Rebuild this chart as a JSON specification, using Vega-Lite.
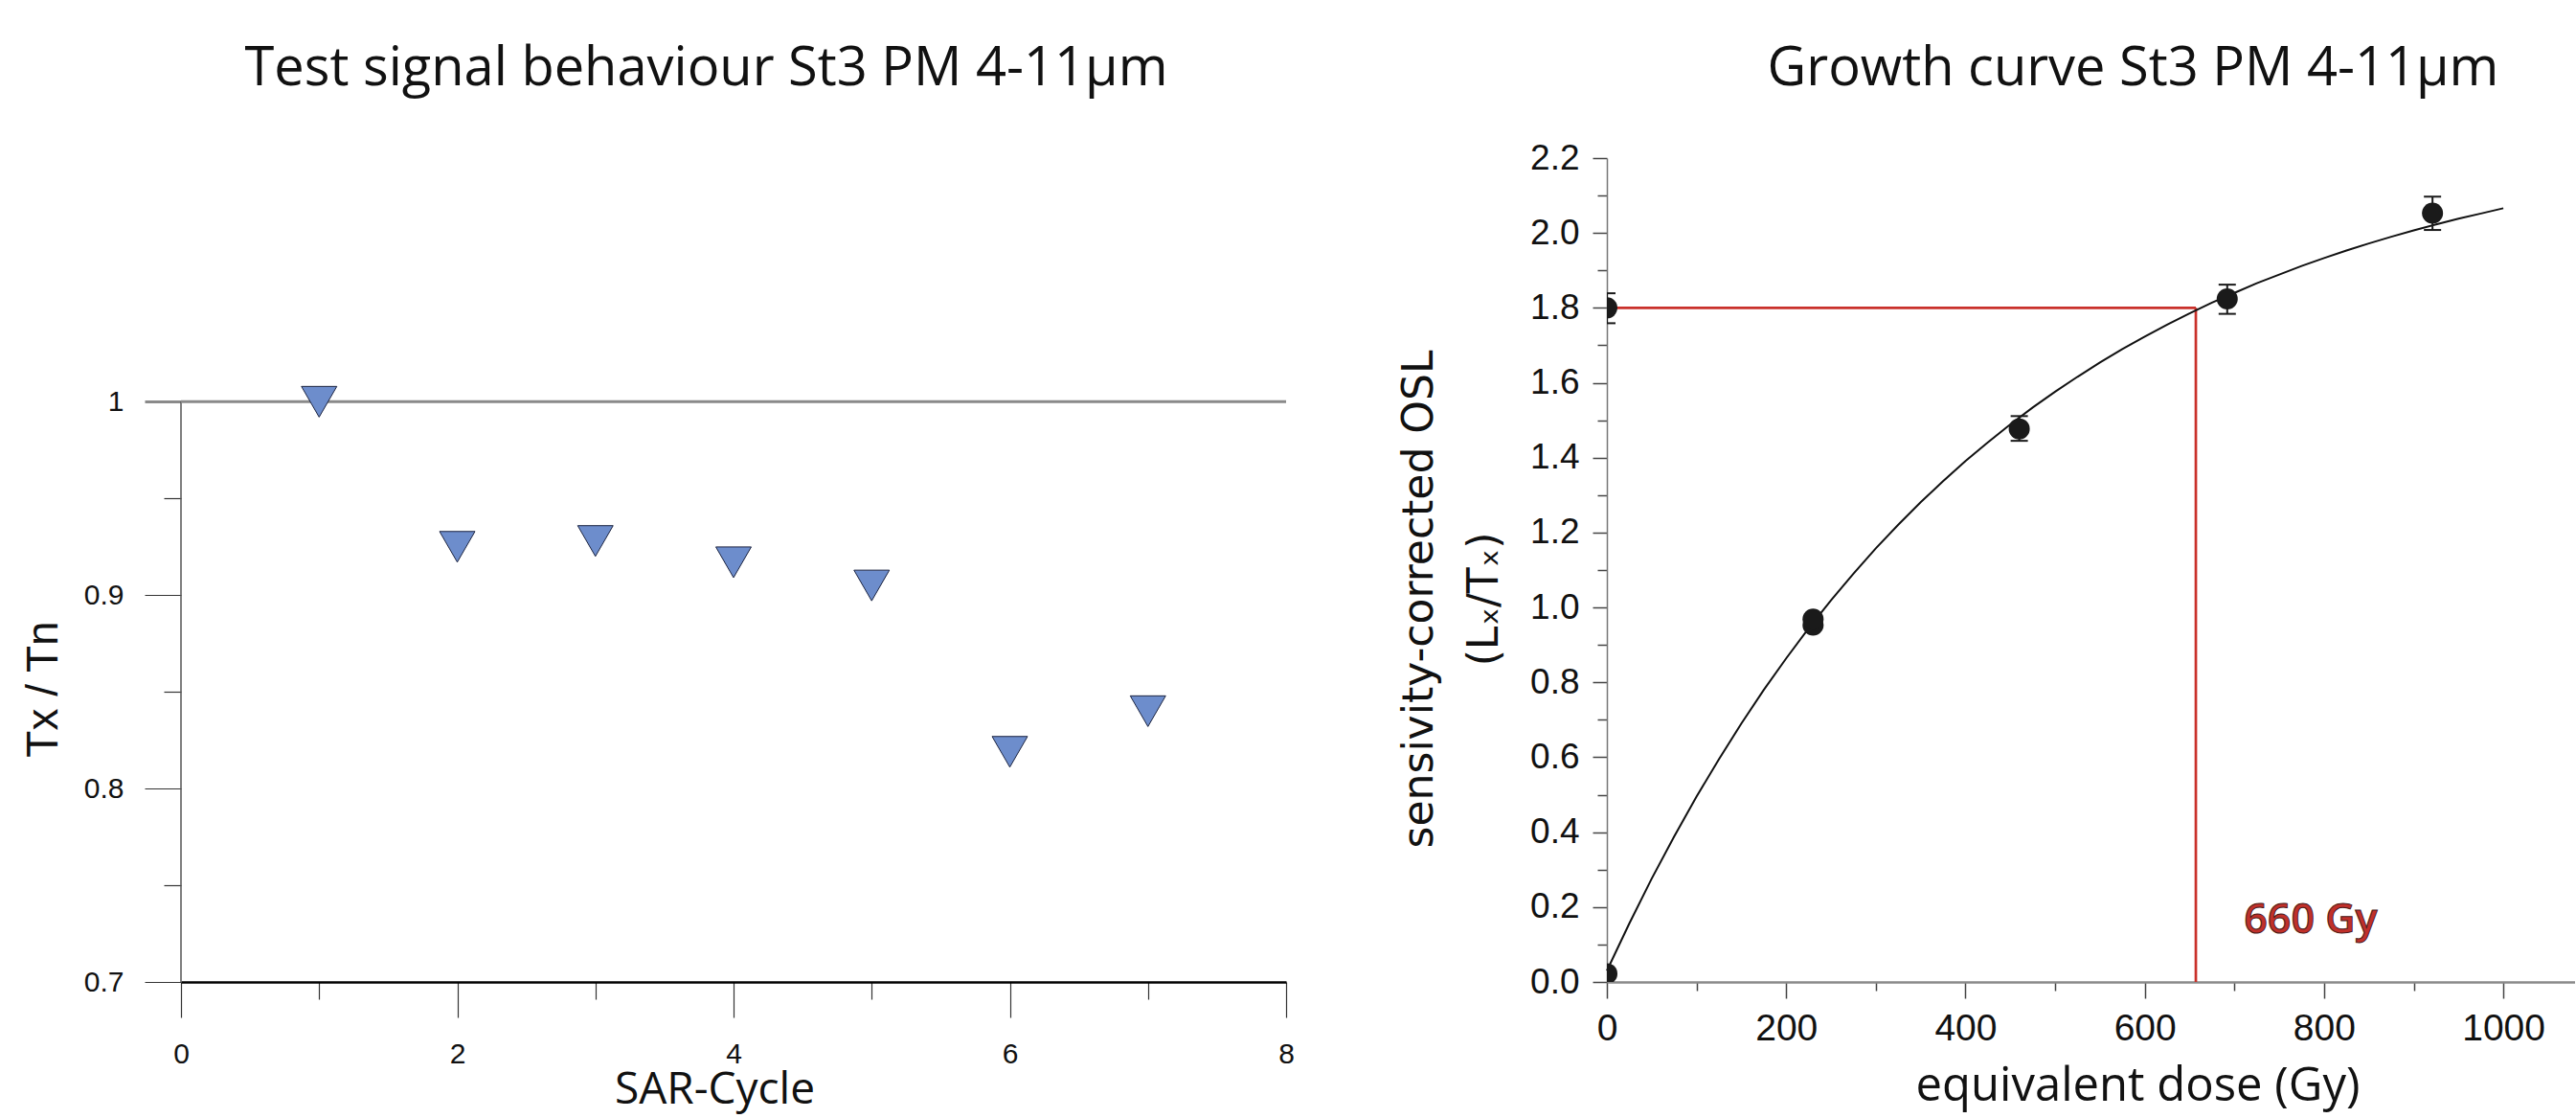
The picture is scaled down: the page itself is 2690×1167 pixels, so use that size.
{
  "$schema": "https://vega.github.io/schema/vega-lite/v6.json",
  "background": "white",
  "padding": {"left": 22, "top": 43, "right": 0, "bottom": 8},
  "bounds": "flush",
  "spacing": 335,
  "config": {"view": {"stroke": null}, "axis": {"grid": false}},
  "datasets": {
    "tri": [
      {"cycle": 1, "ratio": 1.0},
      {"cycle": 2, "ratio": 0.925},
      {"cycle": 3, "ratio": 0.928},
      {"cycle": 4, "ratio": 0.917},
      {"cycle": 5, "ratio": 0.905},
      {"cycle": 6, "ratio": 0.819},
      {"cycle": 7, "ratio": 0.840}
    ],
    "leftline": [{"x": 0, "y0": 0.7, "y1": 1.0}],
    "topline": [{"x0": 0, "x1": 8, "y": 1.0}],
    "curve": [
      {"d": 0, "v": 0.03}, {"d": 25, "v": 0.156}, {"d": 50, "v": 0.276}, {"d": 75, "v": 0.388},
      {"d": 100, "v": 0.495}, {"d": 125, "v": 0.595}, {"d": 150, "v": 0.690}, {"d": 175, "v": 0.780},
      {"d": 200, "v": 0.864}, {"d": 225, "v": 0.944}, {"d": 250, "v": 1.019}, {"d": 275, "v": 1.090},
      {"d": 300, "v": 1.158}, {"d": 325, "v": 1.221}, {"d": 350, "v": 1.281}, {"d": 375, "v": 1.337},
      {"d": 400, "v": 1.391}, {"d": 425, "v": 1.441}, {"d": 450, "v": 1.489}, {"d": 475, "v": 1.534},
      {"d": 500, "v": 1.576}, {"d": 525, "v": 1.616}, {"d": 550, "v": 1.654}, {"d": 575, "v": 1.690},
      {"d": 600, "v": 1.723}, {"d": 625, "v": 1.755}, {"d": 650, "v": 1.785}, {"d": 675, "v": 1.814},
      {"d": 700, "v": 1.840}, {"d": 725, "v": 1.866}, {"d": 750, "v": 1.889}, {"d": 775, "v": 1.912},
      {"d": 800, "v": 1.933}, {"d": 825, "v": 1.953}, {"d": 850, "v": 1.972}, {"d": 875, "v": 1.990},
      {"d": 900, "v": 2.007}, {"d": 925, "v": 2.023}, {"d": 950, "v": 2.038}, {"d": 975, "v": 2.052},
      {"d": 1000, "v": 2.066}
    ],
    "pts": [
      {"dose": 0, "lxtx": 1.80, "lo": 1.759, "hi": 1.839},
      {"dose": 0, "lxtx": 0.022},
      {"dose": 230, "lxtx": 0.953},
      {"dose": 230, "lxtx": 0.969},
      {"dose": 460, "lxtx": 1.477, "lo": 1.445, "hi": 1.511},
      {"dose": 692, "lxtx": 1.824, "lo": 1.784, "hi": 1.862},
      {"dose": 921, "lxtx": 2.053, "lo": 2.008, "hi": 2.097}
    ],
    "red": [
      {"x0": 0, "x1": 657, "y0": 1.8, "y1": 1.8},
      {"x0": 657, "x1": 657, "y0": 0, "y1": 1.8}
    ],
    "lab": [{"dose": 785, "lxtx": 0.13, "text": "660 Gy"}]
  },
  "hconcat": [
    {
      "width": 1154,
      "height": 860,
      "title": {"text": "Test signal behaviour St3 PM 4-11µm", "font": "Open Sans", "fontSize": 56, "fontWeight": "normal", "color": "#111111", "anchor": "middle", "frame": "group", "baseline": "alphabetic", "offset": 19.8, "dx": -28.5},
      "resolve": {"axis": {"x": "independent", "y": "independent"}},
      "layer": [
        {
          "data": {"name": "leftline"},
          "mark": {"type": "rule", "color": "#555555", "strokeWidth": 1.5},
          "encoding": {
            "x": {"field": "x", "type": "quantitative", "scale": {"domain": [0, 8], "nice": false, "zero": false},
                  "axis": {"orient": "bottom", "values": [1, 3, 5, 7], "tickSize": 18, "labels": false, "domain": false, "title": null, "tickColor": "#333333", "tickWidth": 1.2}},
            "y": {"field": "y0", "type": "quantitative", "scale": {"domain": [0.7, 1.126], "nice": false, "zero": false},
                  "axis": {"orient": "left", "values": [0.75, 0.85, 0.95], "tickSize": 18, "labels": false, "domain": false, "title": null, "tickColor": "#333333", "tickWidth": 1.2}},
            "y2": {"field": "y1"}
          }
        },
        {
          "data": {"name": "topline"},
          "mark": {"type": "rule", "color": "#8a8a8a", "strokeWidth": 3},
          "encoding": {
            "x": {"field": "x0", "type": "quantitative", "scale": {"domain": [0, 8], "nice": false, "zero": false}, "axis": null},
            "x2": {"field": "x1"},
            "y": {"field": "y", "type": "quantitative", "scale": {"domain": [0.7, 1.126], "nice": false, "zero": false}, "axis": null}
          }
        },
        {
          "data": {"name": "tri"},
          "mark": {"type": "point", "shape": "triangle-down", "filled": true, "size": 1369, "fill": "#6d8dcc", "stroke": "#1c2440", "strokeWidth": 1, "opacity": 1},
          "encoding": {
            "x": {"field": "cycle", "type": "quantitative", "scale": {"domain": [0, 8], "nice": false, "zero": false},
                  "axis": {"orient": "bottom", "values": [0, 2, 4, 6, 8], "tickSize": 37, "tickColor": "#333333", "tickWidth": 1.2, "domainColor": "#000000", "domainWidth": 2.5,
                           "labelFont": "Liberation Sans", "labelFontSize": 30, "labelColor": "#111111", "labelPadding": 23, "labelFlush": false, "labelOverlap": false,
                           "title": "SAR-Cycle", "titleFont": "Open Sans", "titleFontSize": 46, "titleFontWeight": "normal", "titleColor": "#111111",
                           "titleX": 557, "titleY": 126, "titleBaseline": "alphabetic", "titleAlign": "center"}},
            "y": {"field": "ratio", "type": "quantitative", "scale": {"domain": [0.7, 1.126], "nice": false, "zero": false},
                  "axis": {"orient": "left", "values": [0.7, 0.8, 0.9, 1], "format": "~g", "tickSize": 38,
                           "tickColor": {"condition": {"test": "datum.value === 1", "value": "#8a8a8a"}, "value": "#333333"},
                           "tickWidth": {"condition": {"test": "datum.value === 1", "value": 3}, "value": 1.2},
                           "domain": false, "labelFont": "Liberation Sans", "labelFontSize": 30, "labelColor": "#111111", "labelPadding": 22, "labelFlush": false, "labelOverlap": false,
                           "title": "Tx / Tn", "titleFont": "Liberation Sans", "titleFontSize": 46, "titleFontWeight": "normal", "titleColor": "#111111",
                           "titleX": -130, "titleY": 554, "titleBaseline": "alphabetic", "titleAlign": "center"}}
          }
        }
      ]
    },
    {
      "width": 1011,
      "height": 860,
      "title": {"text": "Growth curve St3 PM 4-11µm", "font": "Open Sans", "fontSize": 56, "fontWeight": "normal", "color": "#111111", "anchor": "middle", "frame": "group", "baseline": "alphabetic", "offset": 1.4, "dx": 44},
      "resolve": {"axis": {"x": "independent", "y": "independent"}},
      "layer": [
        {
          "data": {"name": "red"},
          "mark": {"type": "rule", "color": "#c9302a", "strokeWidth": 2.7},
          "encoding": {
            "x": {"field": "x0", "type": "quantitative", "scale": {"domain": [0, 1080], "nice": false, "zero": false},
                  "axis": {"orient": "bottom", "values": [100, 300, 500, 700, 900], "tickSize": 9, "labels": false, "domain": false, "title": null, "tickColor": "#444444", "tickWidth": 1.5}},
            "x2": {"field": "x1"},
            "y": {"field": "y0", "type": "quantitative", "scale": {"domain": [0, 2.2], "nice": false, "zero": false},
                  "axis": {"orient": "left", "values": [0.1, 0.3, 0.5, 0.7, 0.9, 1.1, 1.3, 1.5, 1.7, 1.9, 2.1], "tickSize": 10, "labels": false, "domain": false, "title": null, "tickColor": "#444444", "tickWidth": 1.5}},
            "y2": {"field": "y1"}
          }
        },
        {
          "data": {"name": "curve"},
          "mark": {"type": "line", "color": "#111111", "strokeWidth": 2},
          "encoding": {
            "x": {"field": "d", "type": "quantitative", "scale": {"domain": [0, 1080], "nice": false, "zero": false},
                  "axis": {"orient": "bottom", "values": [0, 200, 400, 600, 800, 1000], "format": "d", "tickSize": 17, "tickColor": "#444444", "tickWidth": 1.5, "domainColor": "#8a8a8a", "domainWidth": 2.5,
                           "labelFont": "Liberation Sans", "labelFontSize": 39, "labelColor": "#111111", "labelPadding": 12, "labelFlush": false, "labelOverlap": false,
                           "title": "equivalent dose (Gy)", "titleFont": "Open Sans", "titleFontSize": 49, "titleFontWeight": "normal", "titleColor": "#111111",
                           "titleX": 554, "titleY": 123, "titleBaseline": "alphabetic", "titleAlign": "center"}},
            "y": {"field": "v", "type": "quantitative", "scale": {"domain": [0, 2.2], "nice": false, "zero": false},
                  "axis": {"orient": "left", "values": [0, 0.2, 0.4, 0.6, 0.8, 1, 1.2, 1.4, 1.6, 1.8, 2, 2.2], "format": ".1f", "tickSize": 15, "tickColor": "#444444", "tickWidth": 1.5, "domainColor": "#777777", "domainWidth": 1.5,
                           "labelFont": "Liberation Sans", "labelFontSize": 37, "labelColor": "#111111", "labelPadding": 14, "labelFlush": false, "labelOverlap": false,
                           "title": ["sensivity-corrected OSL", "(Lₓ/Tₓ)"], "titleFont": "DejaVu Sans", "titleFontSize": 44, "titleFontWeight": "normal", "titleColor": "#111111", "titleLineHeight": 68,
                           "titleX": -182.5, "titleY": 460, "titleBaseline": "alphabetic", "titleAlign": "center"}}
          }
        },
        {
          "data": {"name": "pts"},
          "mark": {"type": "rule", "color": "#1a1a1a", "strokeWidth": 2, "clip": true},
          "encoding": {
            "x": {"field": "dose", "type": "quantitative", "scale": {"domain": [0, 1080], "nice": false, "zero": false}, "axis": null},
            "y": {"field": "lo", "type": "quantitative", "scale": {"domain": [0, 2.2], "nice": false, "zero": false}, "axis": null},
            "y2": {"field": "hi"}
          }
        },
        {
          "data": {"name": "pts"},
          "mark": {"type": "point", "shape": "M-1,0H1", "filled": false, "size": 324, "stroke": "#1a1a1a", "strokeWidth": 2, "opacity": 1, "clip": true},
          "encoding": {
            "x": {"field": "dose", "type": "quantitative", "scale": {"domain": [0, 1080], "nice": false, "zero": false}, "axis": null},
            "y": {"field": "lo", "type": "quantitative", "scale": {"domain": [0, 2.2], "nice": false, "zero": false}, "axis": null}
          }
        },
        {
          "data": {"name": "pts"},
          "mark": {"type": "point", "shape": "M-1,0H1", "filled": false, "size": 324, "stroke": "#1a1a1a", "strokeWidth": 2, "opacity": 1, "clip": true},
          "encoding": {
            "x": {"field": "dose", "type": "quantitative", "scale": {"domain": [0, 1080], "nice": false, "zero": false}, "axis": null},
            "y": {"field": "hi", "type": "quantitative", "scale": {"domain": [0, 2.2], "nice": false, "zero": false}, "axis": null}
          }
        },
        {
          "data": {"name": "pts"},
          "mark": {"type": "point", "shape": "circle", "filled": true, "size": 484, "color": "#1a1a1a", "opacity": 1, "clip": true},
          "encoding": {
            "x": {"field": "dose", "type": "quantitative", "scale": {"domain": [0, 1080], "nice": false, "zero": false}, "axis": null},
            "y": {"field": "lxtx", "type": "quantitative", "scale": {"domain": [0, 2.2], "nice": false, "zero": false}, "axis": null}
          }
        },
        {
          "data": {"name": "lab"},
          "mark": {"type": "text", "font": "Open Sans", "fontSize": 43, "fontWeight": 600, "fill": "#c0302a", "stroke": "#4a1a1a", "strokeWidth": 1, "align": "center", "baseline": "alphabetic"},
          "encoding": {
            "x": {"field": "dose", "type": "quantitative", "scale": {"domain": [0, 1080], "nice": false, "zero": false}, "axis": null},
            "y": {"field": "lxtx", "type": "quantitative", "scale": {"domain": [0, 2.2], "nice": false, "zero": false}, "axis": null},
            "text": {"field": "text"}
          }
        }
      ]
    }
  ]
}
